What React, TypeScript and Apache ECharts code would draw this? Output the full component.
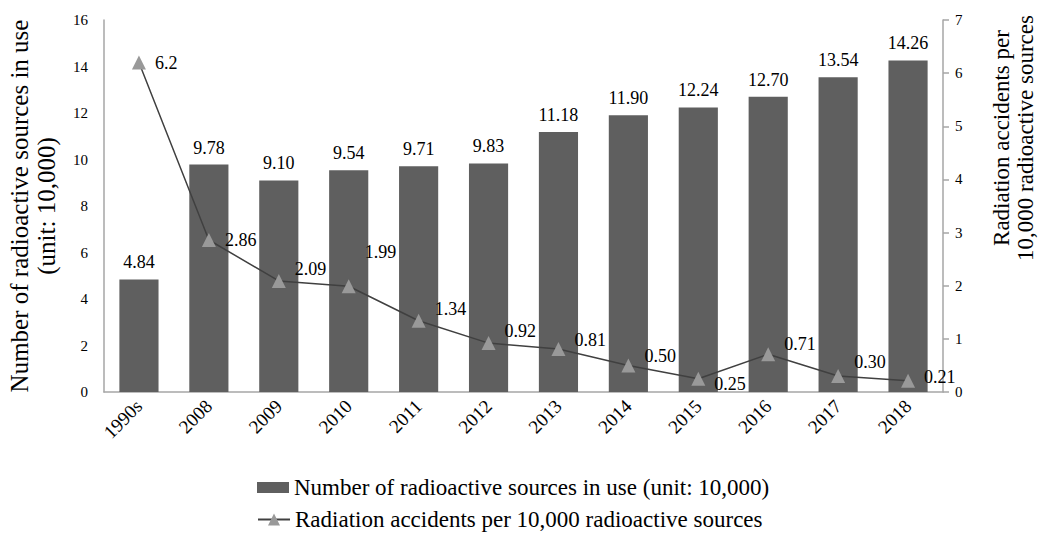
import React, { useEffect, useRef } from "react";
import * as echarts from "echarts";

const categories = ["1990s", "2008", "2009", "2010", "2011", "2012", "2013", "2014", "2015", "2016", "2017", "2018"];
const sourcesInUse = [4.84, 9.78, 9.1, 9.54, 9.71, 9.83, 11.18, 11.9, 12.24, 12.7, 13.54, 14.26];
const accidentsPer10k = [6.2, 2.86, 2.09, 1.99, 1.34, 0.92, 0.81, 0.5, 0.25, 0.71, 0.3, 0.21];
const sourceLabels = ["4.84", "9.78", "9.10", "9.54", "9.71", "9.83", "11.18", "11.90", "12.24", "12.70", "13.54", "14.26"];
const accidentLabels = ["6.2", "2.86", "2.09", "1.99", "1.34", "0.92", "0.81", "0.50", "0.25", "0.71", "0.30", "0.21"];
const leftTicks = { min: 0, max: 16, interval: 2 };
const rightTicks = { min: 0, max: 7, interval: 1 };

const barName = "Number of radioactive sources in use (unit: 10,000)";
const lineName = "Radiation accidents per 10,000 radioactive sources";
const leftTitle = "Number of radioactive sources in use\n(unit: 10,000)";
const rightTitleLines = ["Radiation accidents per", "10,000 radioactive sources"];

// label offsets (styling only)
const accidentLabelOffsets = [
  [0, 0], [0, 0], [0, -12], [0, -34], [0, -12], [0, -12], [0, -9], [0, -9], [0, 5], [0, -10], [0, -14], [0, -4],
];

const FONT = "Liberation Serif";

export default function App() {
  const ref = useRef<HTMLDivElement>(null);
  useEffect(() => {
    const chart = echarts.init(ref.current!, null, { renderer: "svg" });
    const legendText = { fontFamily: FONT, fontSize: 23, color: "#000" };
    chart.setOption({
      animation: false,
      textStyle: { fontFamily: FONT, color: "#000" },
      grid: { left: 104, right: 95, top: 20, bottom: 142, outerBoundsMode: "none", containLabel: false },
      legend: [
        {
          left: 252,
          top: 471,
          itemWidth: 32,
          itemHeight: 11,
          textStyle: legendText,
          data: [{ name: barName, icon: "rect" }],
        },
        {
          left: 252,
          top: 503,
          itemWidth: 32,
          itemHeight: 15,
          textStyle: legendText,
          data: [{ name: lineName }],
        },
      ],
      graphic: rightTitleLines.map((t, i) => ({
        type: "text",
        x: 1001 + i * 24,
        y: 138,
        rotation: Math.PI / 2,
        style: {
          text: t,
          fontFamily: FONT,
          fontSize: 23,
          fill: "#000",
          align: "center",
          verticalAlign: "middle",
        },
      })),
      xAxis: {
        type: "category",
        data: categories,
        axisLine: { lineStyle: { color: "#a6a6a6", width: 1.5 } },
        axisTick: { show: false },
        axisLabel: { rotate: 45, fontSize: 19, color: "#000", fontFamily: FONT, margin: 11 },
      },
      yAxis: [
        {
          type: "value",
          ...leftTicks,
          name: leftTitle,
          nameLocation: "middle",
          nameRotate: 90,
          nameGap: 44,
          nameTextStyle: { fontFamily: FONT, fontSize: 25, color: "#000", lineHeight: 27 },
          axisLine: { show: true, lineStyle: { color: "#a6a6a6", width: 1.5 } },
          axisTick: { show: false },
          splitLine: { show: false },
          axisLabel: { fontSize: 15, color: "#000", fontFamily: FONT, margin: 16 },
        },
        {
          type: "value",
          ...rightTicks,
          axisLine: { show: true, lineStyle: { color: "#a6a6a6", width: 1.5 } },
          axisTick: { show: true, length: 6, lineStyle: { color: "#a6a6a6", width: 1.5 } },
          splitLine: { show: false },
          axisLabel: { fontSize: 15, color: "#000", fontFamily: FONT, margin: 12 },
        },
      ],
      series: [
        {
          name: barName,
          type: "bar",
          yAxisIndex: 0,
          barWidth: "56%",
          data: sourcesInUse,
          itemStyle: { color: "#5f5f5f" },
          label: {
            show: true,
            position: "top",
            distance: 8,
            fontSize: 18,
            fontFamily: FONT,
            color: "#000",
            formatter: (p: any) => sourceLabels[p.dataIndex],
          },
        },
        {
          name: lineName,
          type: "line",
          yAxisIndex: 1,
          data: accidentsPer10k.map((v, i) => ({
            value: v,
            label: { offset: accidentLabelOffsets[i] },
          })),
          symbol: "triangle",
          symbolSize: 14,
          lineStyle: { color: "#404040", width: 1.5 },
          itemStyle: { color: "#999999" },
          z: 5,
          label: {
            show: true,
            position: "right",
            distance: 9,
            fontSize: 18,
            fontFamily: FONT,
            color: "#000",
            formatter: (p: any) => accidentLabels[p.dataIndex],
          },
        },
      ],
    });
    return () => chart.dispose();
  }, []);
  return <div ref={ref} style={{ position: "absolute", left: 0, top: 0, width: 1038, height: 534 }} />;
}
